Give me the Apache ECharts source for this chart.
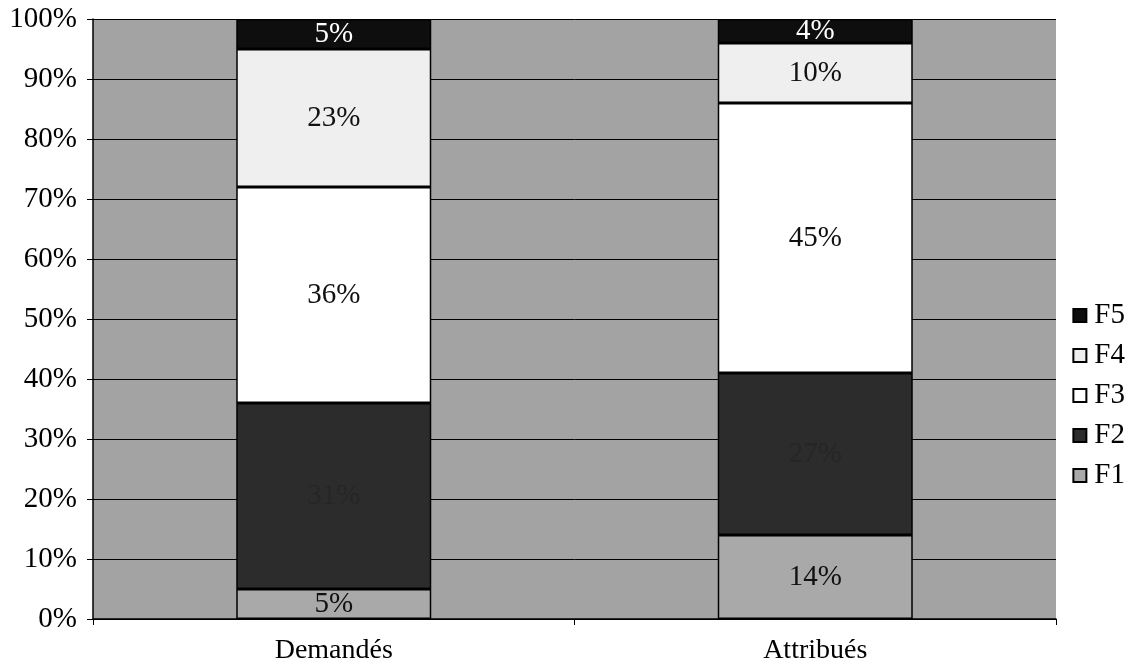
<!DOCTYPE html>
<html>
<head>
<meta charset="utf-8">
<script src="https://cdn.jsdelivr.net/npm/echarts@6/dist/echarts.min.js"></script>
<style>
  html, body { margin: 0; padding: 0; background: #fff; }
  #chart { width: 1132px; height: 669px; }
</style>
</head>
<body>
<div id="chart"></div>
<script>
// Share of each group (F1..F5) among requested vs. granted
const categories = ['Demandés', 'Attribués'];
const seriesNames = ['F1', 'F2', 'F3', 'F4', 'F5'];
const f1 = [5, 14];
const f2 = [31, 27];
const f3 = [36, 45];
const f4 = [23, 10];
const f5 = [5, 4];
const yTicks = [0, 10, 20, 30, 40, 50, 60, 70, 80, 90, 100];

const values = [f1, f2, f3, f4, f5];
const fills = ['#a9a9a9', '#2c2c2c', '#ffffff', '#efefef', '#0e0e0e'];
const labelColors = ['#111', '#262626', '#111', '#111', '#ffffff'];
const serif = '"Liberation Serif", "DejaVu Serif", serif';
const fontPx = 29;

const chart = echarts.init(document.getElementById('chart'), null, { renderer: 'canvas' });

const series = seriesNames.map((name, i) => ({
  name: name,
  type: 'bar',
  stack: 'total',
  barWidth: 195,
  data: values[i],
  itemStyle: { color: fills[i], borderColor: '#000', borderWidth: 1.5 },
  label: {
    show: true,
    position: 'inside',
    formatter: '{c}%',
    fontFamily: serif,
    fontSize: fontPx,
    color: labelColors[i]
  },
  emphasis: { disabled: true }
}));

chart.setOption({
  animation: false,
  backgroundColor: '#ffffff',
  textStyle: { fontFamily: serif },
  grid: {
    left: 93, right: 76, top: 19, bottom: 50,
    show: true,
    backgroundColor: '#a3a3a3',
    borderWidth: 0
  },
  legend: {
    orient: 'vertical',
    right: 2,
    top: 296,
    itemWidth: 13,
    itemHeight: 13,
    itemGap: 11,
    icon: 'rect',
    data: seriesNames.slice().reverse(),
    textStyle: { fontFamily: serif, fontSize: fontPx, color: '#000', padding: [0, 0, 0, 3] }
  },
  xAxis: {
    type: 'category',
    data: categories,
    axisLine: { show: true, lineStyle: { color: '#000', width: 1.5 } },
    axisTick: { show: true, length: 6, alignWithLabel: false, lineStyle: { color: '#000' } },
    axisLabel: { fontFamily: serif, fontSize: fontPx - 1, color: '#000', margin: 18 },
    splitLine: { show: false }
  },
  yAxis: {
    type: 'value',
    min: yTicks[0],
    max: yTicks[yTicks.length - 1],
    interval: 10,
    axisLine: { show: true, lineStyle: { color: '#000', width: 1.5 } },
    axisTick: { show: true, length: 6, lineStyle: { color: '#000' } },
    axisLabel: { fontFamily: serif, fontSize: fontPx, color: '#000', margin: 16, formatter: '{value}%' },
    splitLine: { show: true, lineStyle: { color: '#000', width: 1 } }
  },
  series: series
});
</script>
</body>
</html>
